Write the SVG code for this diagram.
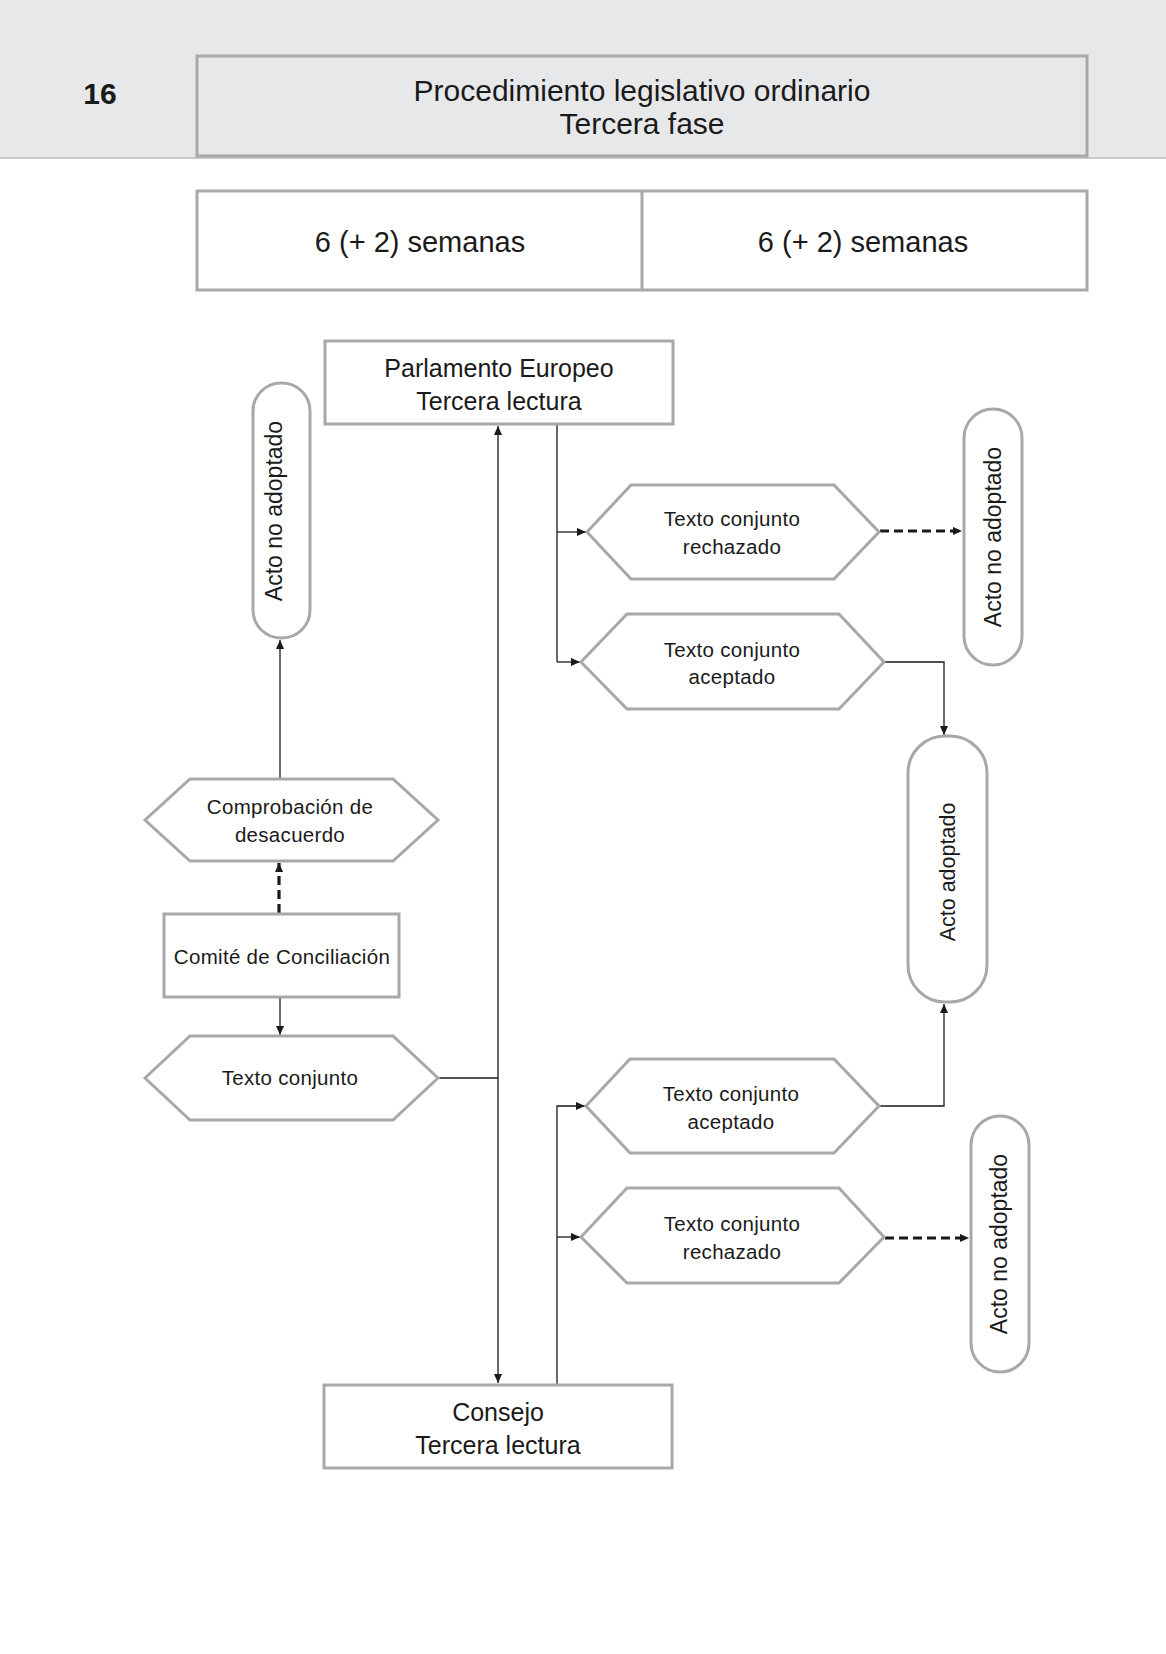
<svg xmlns="http://www.w3.org/2000/svg" width="1166" height="1654" viewBox="0 0 1166 1654">
<style>
.box{fill:#fff;stroke:#a8a8a8;stroke-width:3}
.hbox{fill:#e7e8ea;stroke:#a8a8a8;stroke-width:3}
.pill{fill:#fff;stroke:#a8a8a8;stroke-width:3}
.t{font-family:"Liberation Sans",Arial,sans-serif;fill:#1a1a1a;text-anchor:middle}
.big{font-size:30px}
.mid{font-size:25px}
.sm{font-size:20.5px;letter-spacing:0.3px}
.vt{font-size:23px}
.c{fill:none;stroke:#1a1a1a;stroke-width:1.3}
.d{fill:none;stroke:#1a1a1a;stroke-width:3.2;stroke-dasharray:9,5}
</style>
<defs>
<marker id="ah" viewBox="0 0 10 10" refX="10" refY="5" markerWidth="11" markerHeight="9" markerUnits="userSpaceOnUse" orient="auto-start-reverse">
<path d="M0,0.5 L10,5 L0,9.5 z" fill="#1a1a1a"/>
</marker>
</defs>
<rect x="0" y="0" width="1166" height="1654" fill="#fff"/>
<g id="header">
<rect x="0" y="0" width="1166" height="158" fill="#e7e8ea"/>
<line x1="0" y1="158" x2="1166" y2="158" stroke="#c8c9cb" stroke-width="2"/>
<text class="t" x="100" y="104" font-size="30" font-weight="bold" fill="#333">16</text>
<rect class="hbox" x="197" y="56" width="890" height="100"/>
<text class="t big" x="642" y="101">Procedimiento legislativo ordinario</text>
<text class="t big" x="642" y="134">Tercera fase</text>
</g>
<g id="weeks">
<rect class="box" x="197" y="191" width="890" height="99"/>
<line x1="642" y1="191" x2="642" y2="290" stroke="#a8a8a8" stroke-width="3"/>
<text class="t" font-size="29" x="420" y="252">6 (+ 2) semanas</text>
<text class="t" font-size="29" x="863" y="252">6 (+ 2) semanas</text>
</g>
<g id="connectors">
<path class="c" d="M498 1383 V426" marker-start="url(#ah)" marker-end="url(#ah)"/>
<path class="c" d="M557 425 V662"/>
<path class="c" d="M557 532 H586" marker-end="url(#ah)"/>
<path class="c" d="M557 662 H580" marker-end="url(#ah)"/>
<path class="d" d="M880 531 H962" marker-end="url(#ah)"/>
<path class="c" d="M884 662 H944 V735" marker-end="url(#ah)"/>
<path class="c" d="M557 1384 V1106 H585" marker-end="url(#ah)"/>
<path class="c" d="M557 1237 H580" marker-end="url(#ah)"/>
<path class="c" d="M879 1106 H944 V1004" marker-end="url(#ah)"/>
<path class="d" d="M885 1238 H969" marker-end="url(#ah)"/>
<path class="c" d="M280 778 V640" marker-end="url(#ah)"/>
<path class="d" d="M279 913 V863" marker-end="url(#ah)"/>
<path class="c" d="M280 998 V1035" marker-end="url(#ah)"/>
<path class="c" d="M439 1078 H498"/>
</g>
<g id="parlamento">
<rect class="box" x="325" y="341" width="348" height="83"/>
<text class="t mid" x="499" y="377">Parlamento Europeo</text>
<text class="t mid" x="499" y="410">Tercera lectura</text>
</g>
<g id="consejo">
<rect class="box" x="324" y="1385" width="348" height="83"/>
<text class="t mid" x="498" y="1421">Consejo</text>
<text class="t mid" x="498" y="1454">Tercera lectura</text>
</g>
<g id="rechazado-pe">
<polygon class="box" points="587,532 631,485 834,485 879,532 834,579 631,579"/>
<text class="t sm" x="732" y="526">Texto conjunto</text>
<text class="t sm" x="732" y="554">rechazado</text>
</g>
<g id="aceptado-pe">
<polygon class="box" points="581,662 627,614 839,614 884,662 839,709 627,709"/>
<text class="t sm" x="732" y="657">Texto conjunto</text>
<text class="t sm" x="732" y="684">aceptado</text>
</g>
<g id="no-adoptado-1">
<rect class="pill" x="964" y="409" width="58" height="256" rx="29"/>
<text class="t vt" transform="translate(1001,537) rotate(-90)">Acto no adoptado</text>
</g>
<g id="adoptado">
<rect class="pill" x="908" y="736" width="79" height="266" rx="37"/>
<text class="t" font-size="21.5" transform="translate(955,872) rotate(-90)">Acto adoptado</text>
</g>
<g id="aceptado-co">
<polygon class="box" points="586,1106 630,1059 834,1059 879,1106 834,1153 630,1153"/>
<text class="t sm" x="731" y="1101">Texto conjunto</text>
<text class="t sm" x="731" y="1129">aceptado</text>
</g>
<g id="rechazado-co">
<polygon class="box" points="581,1237 627,1188 839,1188 884,1237 839,1283 627,1283"/>
<text class="t sm" x="732" y="1231">Texto conjunto</text>
<text class="t sm" x="732" y="1259">rechazado</text>
</g>
<g id="no-adoptado-2">
<rect class="pill" x="971" y="1116" width="58" height="256" rx="29"/>
<text class="t vt" transform="translate(1007,1244) rotate(-90)">Acto no adoptado</text>
</g>
<g id="no-adoptado-left">
<rect class="pill" x="253" y="383" width="57" height="255" rx="28"/>
<text class="t vt" transform="translate(282,511) rotate(-90)">Acto no adoptado</text>
</g>
<g id="comprobacion">
<polygon class="box" points="145,820 190,779 393,779 438,820 393,861 190,861"/>
<text class="t sm" x="290" y="814">Comprobación de</text>
<text class="t sm" x="290" y="842">desacuerdo</text>
</g>
<g id="comite">
<rect class="box" x="164" y="914" width="235" height="83"/>
<text class="t sm" x="282" y="964">Comité de Conciliación</text>
</g>
<g id="texto-conjunto">
<polygon class="box" points="145,1078 190,1036 393,1036 438,1078 393,1120 190,1120"/>
<text class="t sm" x="290" y="1085">Texto conjunto</text>
</g>
</svg>
